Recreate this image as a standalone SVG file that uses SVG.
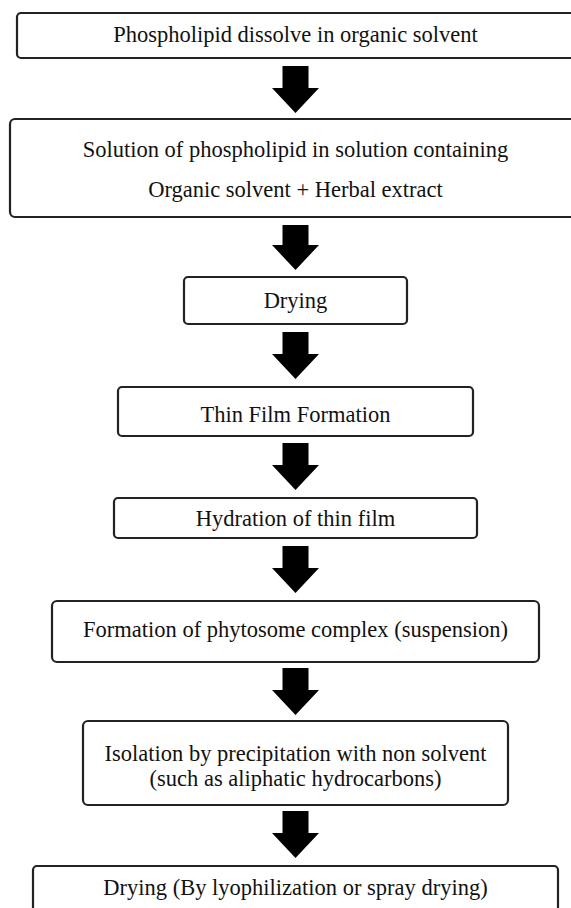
<svg xmlns="http://www.w3.org/2000/svg" width="571" height="908" viewBox="0 0 571 908">
<style>
.box{fill:#fff;stroke:#222;stroke-width:2.2}
.t{font-family:"Liberation Serif","Times New Roman",serif;font-size:22.5px;fill:#111;text-anchor:middle}
.arr{fill:#000}
</style>
<rect width="571" height="908" fill="#fff"/>
<g id="n1"><rect class="box" x="17" y="13" width="560" height="45" rx="4"/><text class="t" x="295.5" y="42">Phospholipid dissolve in organic solvent</text></g>
<g id="n2"><rect class="box" x="10" y="119" width="575" height="98" rx="5"/><text class="t" x="295.5" y="157">Solution of phospholipid in solution containing</text><text class="t" x="295.5" y="197">Organic solvent + Herbal extract</text></g>
<g id="n3"><rect class="box" x="184" y="277" width="223" height="47" rx="4"/><text class="t" x="295.5" y="308">Drying</text></g>
<g id="n4"><rect class="box" x="118" y="387" width="355" height="49" rx="4"/><text class="t" x="295.5" y="422">Thin Film Formation</text></g>
<g id="n5"><rect class="box" x="114" y="498" width="363" height="40" rx="4"/><text class="t" x="295.5" y="526">Hydration of thin film</text></g>
<g id="n6"><rect class="box" x="52" y="601" width="487" height="61" rx="5"/><text class="t" x="295.5" y="637">Formation of phytosome complex (suspension)</text></g>
<g id="n7"><rect class="box" x="83" y="721" width="425" height="84" rx="5"/><text class="t" x="295.5" y="761">Isolation by precipitation with non solvent</text><text class="t" x="295.5" y="786">(such as aliphatic hydrocarbons)</text></g>
<g id="n8"><rect class="box" x="33" y="866" width="525" height="70" rx="4"/><text class="t" x="295.5" y="895">Drying (By lyophilization or spray drying)</text></g>
<g id="connectors">
<polygon class="arr" points="282.5,66 308.5,66 308.5,88 319,88 295.5,113 272,88 282.5,88"/>
<polygon class="arr" points="282.5,225 308.5,225 308.5,245 319,245 295.5,270 272,245 282.5,245"/>
<polygon class="arr" points="282.5,332 308.5,332 308.5,354 319,354 295.5,379 272,354 282.5,354"/>
<polygon class="arr" points="282.5,443 308.5,443 308.5,465 319,465 295.5,490 272,465 282.5,465"/>
<polygon class="arr" points="282.5,546 308.5,546 308.5,568 319,568 295.5,593 272,568 282.5,568"/>
<polygon class="arr" points="282.5,668 308.5,668 308.5,690 319,690 295.5,715 272,690 282.5,690"/>
<polygon class="arr" points="282.5,811 308.5,811 308.5,833 319,833 295.5,858 272,833 282.5,833"/>
</g>
</svg>
